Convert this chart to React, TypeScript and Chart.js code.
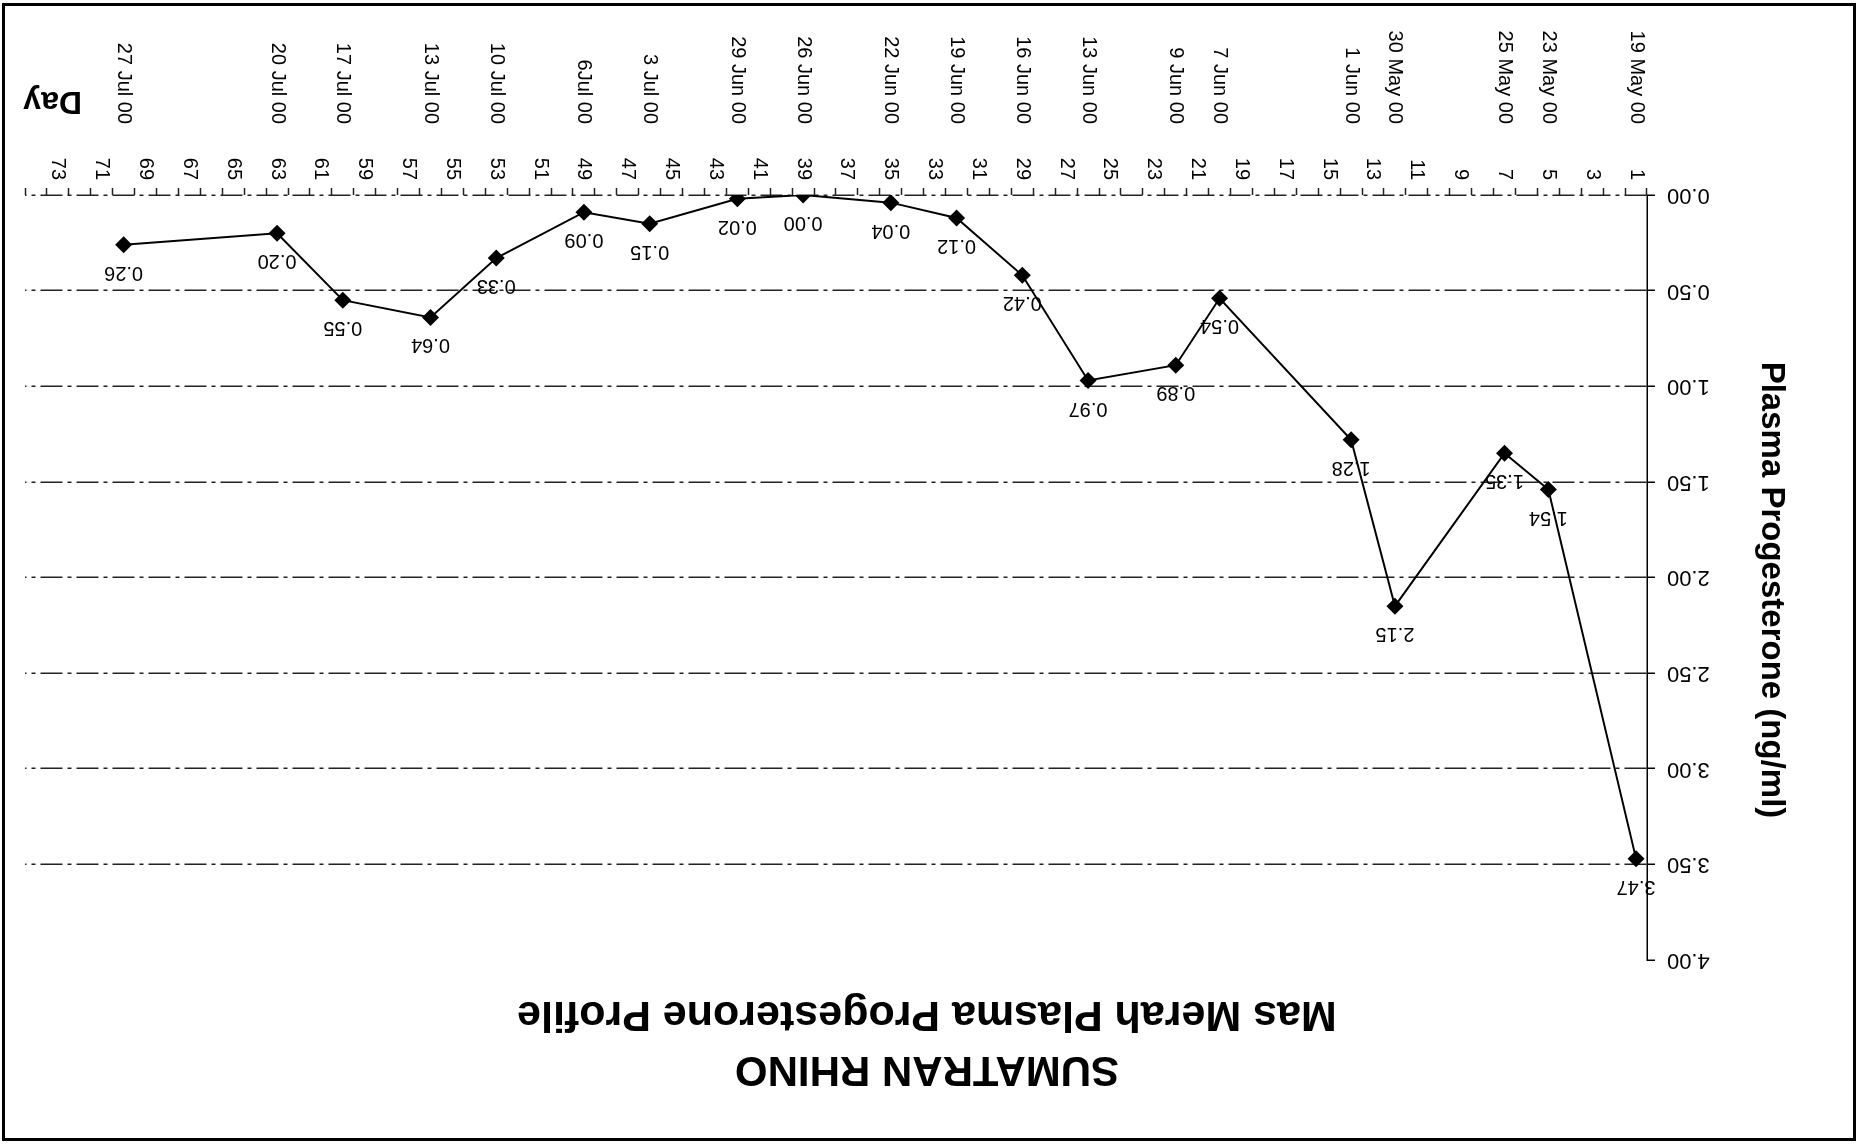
import React, { useEffect, useRef } from 'react';
import { Chart, registerables } from 'chart.js';

Chart.register(...registerables);

const FAMILY = '"Liberation Sans", Arial, Helvetica, sans-serif';

const TITLE = 'SUMATRAN RHINO';
const SUBTITLE = 'Mas Merah Plasma Progesterone Profile';
const Y_TITLE = 'Plasma Progesterone (ng/ml)';
const X_TITLE = 'Day';

// Category axis: days 1..74 (only odd days are labelled)
const DAY_LABELS: string[] = Array.from({ length: 74 }, (_, i) => String(i + 1));

// Sampling days, their calendar dates, and the measured values
const SAMPLE_DAYS = [1, 5, 7, 12, 14, 20, 22, 26, 29, 32, 35, 39, 42, 46, 49, 53, 56, 60, 63, 70];
const SAMPLE_DATES = [
  '19 May 00', '23 May 00', '25 May 00', '30 May 00', '1 Jun 00', '7 Jun 00', '9 Jun 00',
  '13 Jun 00', '16 Jun 00', '19 Jun 00', '22 Jun 00', '26 Jun 00', '29 Jun 00', '3 Jul 00',
  '6Jul 00', '10 Jul 00', '13 Jul 00', '17 Jul 00', '20 Jul 00', '27 Jul 00',
];
const PROGESTERONE = [3.47, 1.54, 1.35, 2.15, 1.28, 0.54, 0.89, 0.97, 0.42, 0.12, 0.04, 0.0, 0.02, 0.15, 0.09, 0.33, 0.64, 0.55, 0.2, 0.26];

const Y_MIN = 0;
const Y_MAX = 4;
const Y_STEP = 0.5;

const decorPlugin = {
  id: 'decor',
  beforeDraw(chart: any) {
    const ctx = chart.ctx;
    ctx.save();
    ctx.fillStyle = '#ffffff';
    ctx.fillRect(0, 0, chart.width, chart.height);
    ctx.restore();
  },
  afterDraw(chart: any) {
    const ctx = chart.ctx;
    ctx.save();
    ctx.fillStyle = '#000';

    // titles
    ctx.textAlign = 'center';
    ctx.textBaseline = 'alphabetic';
    ctx.font = `bold 42px ${FAMILY}`;
    ctx.fillText(TITLE, 932, 91);
    ctx.font = `bold 43px ${FAMILY}`;
    ctx.fillText(SUBTITLE, 932, 146);

    // y axis title
    ctx.save();
    ctx.translate(97, 558);
    ctx.rotate(-Math.PI / 2);
    ctx.font = `bold 33px ${FAMILY}`;
    ctx.textAlign = 'center';
    ctx.fillText(Y_TITLE, 0, 0);
    ctx.restore();

    // x axis title
    ctx.font = `bold 32px ${FAMILY}`;
    ctx.textAlign = 'left';
    ctx.fillText(X_TITLE, 1777, 1056);

    // value labels
    const meta = chart.getDatasetMeta(0);
    ctx.font = `20px ${FAMILY}`;
    ctx.textAlign = 'center';
    meta.data.forEach((pt: any, i: number) => {
      ctx.fillText(PROGESTERONE[i].toFixed(2), pt.x, pt.y - 22);
    });

    // frame
    ctx.strokeStyle = '#000';
    ctx.lineWidth = 3;
    ctx.strokeRect(4.5, 8.5, 1851, 1135);
    ctx.restore();
  },
};

export default function App() {
  const canvasRef = useRef<HTMLCanvasElement | null>(null);

  useEffect(() => {
    if (!canvasRef.current) return;
    const chart = new Chart(canvasRef.current, {
      type: 'line',
      data: {
        labels: DAY_LABELS,
        datasets: [
          {
            data: SAMPLE_DAYS.map((d, i) => ({ x: String(d), y: PROGESTERONE[i] })),
            borderColor: '#000',
            borderWidth: 2,
            backgroundColor: '#000',
            pointStyle: 'rectRot',
            pointRadius: 8.5,
            pointBackgroundColor: '#000',
            pointBorderColor: '#000',
            pointBorderWidth: 0,
            tension: 0,
            xAxisID: 'x',
            yAxisID: 'y',
          },
        ],
      },
      options: {
        responsive: false,
        animation: false,
        layout: { padding: { top: 188, right: 25, bottom: 20, left: 0 } },
        plugins: {
          legend: { display: false },
          title: { display: false },
          tooltip: { enabled: false },
        },
        scales: {
          x: {
            type: 'category',
            position: 'bottom',
            min: 0,
            max: 73,
            offset: true,
            grid: {
              drawOnChartArea: false,
              offset: true,
              tickLength: 7,
              tickColor: '#222',
              tickWidth: 1.5,
            },
            border: { display: false },
            ticks: {
              autoSkip: false,
              minRotation: 90,
              maxRotation: 90,
              padding: 8,
              color: '#000',
              font: { family: FAMILY, size: 20 },
              callback: (_v: any, i: number) => (i % 2 === 0 ? DAY_LABELS[i] : ''),
            },
            afterFit: (s: any) => {
              s.height = 65;
            },
          },
          x2: {
            type: 'category',
            position: 'bottom',
            min: 0,
            max: 73,
            offset: true,
            grid: { display: false, drawTicks: false },
            border: { display: false },
            ticks: {
              autoSkip: false,
              minRotation: 90,
              maxRotation: 90,
              padding: 6,
              color: '#000',
              font: { family: FAMILY, size: 20 },
              callback: (_v: any, i: number) => {
                const k = SAMPLE_DAYS.indexOf(i + 1);
                return k >= 0 ? SAMPLE_DATES[k] : '';
              },
            },
            afterFit: (s: any) => {
              s.height = 110;
            },
          },
          y: {
            type: 'linear',
            position: 'left',
            min: Y_MIN,
            max: Y_MAX,
            ticks: {
              stepSize: Y_STEP,
              padding: 12,
              color: '#000',
              font: { family: FAMILY, size: 22 },
              callback: (v: any) => Number(v).toFixed(2),
            },
            grid: {
              color: (c: any) => (c.tick && c.tick.value === Y_MAX ? 'rgba(0,0,0,0)' : '#222'),
              lineWidth: 1.5,
              tickLength: 8,
              tickColor: '#000',
              tickWidth: 1.5,
              tickBorderDash: [],
            },
            border: { display: true, color: '#000', width: 1.5, dash: [22, 5, 4, 5] },
            afterFit: (s: any) => {
              s.width = 212;
            },
          },
        },
      },
      plugins: [decorPlugin],
    } as any);
    return () => chart.destroy();
  }, []);

  return (
    <div
      style={{
        position: 'absolute',
        left: 0,
        top: 0,
        width: 1859,
        height: 1148,
        transform: 'rotate(180deg)',
        background: '#fff',
      }}
    >
      <canvas ref={canvasRef} width={1859} height={1148} style={{ display: 'block' }} />
    </div>
  );
}
